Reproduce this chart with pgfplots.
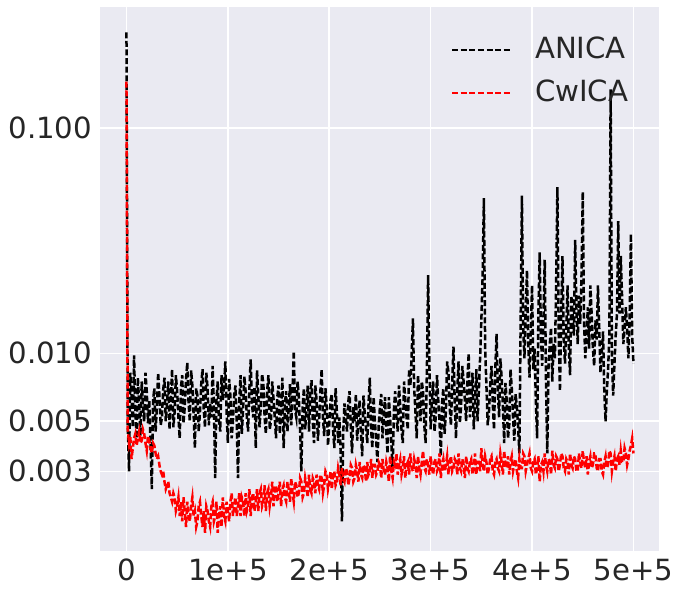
\documentclass[border=0pt]{standalone}
\usepackage{fontspec}
\setmainfont{DejaVu Sans}
\usepackage{pgfplots}
\pgfplotsset{compat=1.18}
\usepackage{pgfplotstable}

\definecolor{sbbg}{HTML}{EAEAF2}
\definecolor{sbtext}{HTML}{262626}
\newcommand{\plotfont}{\fontsize{14.6}{17}\selectfont}

% reconstruction error, one value every 1250 iterations (two per line)
\pgfplotstableread[row sep=\\]{
v\\
0.265\\ 0.0048\\
0.0030\\ 0.0082\\
0.0065\\ 0.0047\\
0.0098\\ 0.0055\\
0.0042\\ 0.0078\\
0.0060\\ 0.0043\\
0.0075\\ 0.0058\\
0.0050\\ 0.0082\\
0.0068\\ 0.0049\\
0.0062\\ 0.0040\\
0.0025\\ 0.0062\\
0.0070\\ 0.0045\\
0.0058\\ 0.0082\\
0.0065\\ 0.0048\\
0.0052\\ 0.0069\\
0.0078\\ 0.0050\\
0.0060\\ 0.0075\\
0.0046\\ 0.0064\\
0.0085\\ 0.0047\\
0.0055\\ 0.0080\\
0.0068\\ 0.0052\\
0.0042\\ 0.0071\\
0.0080\\ 0.0049\\
0.0058\\ 0.0077\\
0.0091\\ 0.0060\\
0.0050\\ 0.0084\\
0.0072\\ 0.0053\\
0.0038\\ 0.0070\\
0.0065\\ 0.0045\\
0.0055\\ 0.0073\\
0.0085\\ 0.0056\\
0.0047\\ 0.0082\\
0.0070\\ 0.0048\\
0.0060\\ 0.0052\\
0.0088\\ 0.0058\\
0.0028\\ 0.0062\\
0.0075\\ 0.0050\\
0.0045\\ 0.0080\\
0.0062\\ 0.0071\\
0.0092\\ 0.0055\\
0.0040\\ 0.0077\\
0.0065\\ 0.0042\\
0.0050\\ 0.0066\\
0.0072\\ 0.0049\\
0.0028\\ 0.0061\\
0.0080\\ 0.0044\\
0.0056\\ 0.0079\\
0.0068\\ 0.0052\\
0.0045\\ 0.0070\\
0.0094\\ 0.0060\\
0.0052\\ 0.0071\\
0.0038\\ 0.0084\\
0.0066\\ 0.0047\\
0.0058\\ 0.0081\\
0.0074\\ 0.0052\\
0.0044\\ 0.0068\\
0.0080\\ 0.0046\\
0.0050\\ 0.0075\\
0.0063\\ 0.0052\\
0.0042\\ 0.0064\\
0.0072\\ 0.0044\\
0.0055\\ 0.0078\\
0.0038\\ 0.0060\\
0.0068\\ 0.0045\\
0.0057\\ 0.0073\\
0.0048\\ 0.0068\\
0.0102\\ 0.0056\\
0.0052\\ 0.0075\\
0.0064\\ 0.0045\\
0.0030\\ 0.0058\\
0.0070\\ 0.0046\\
0.0056\\ 0.0072\\
0.0045\\ 0.0066\\
0.0076\\ 0.0050\\
0.0040\\ 0.0072\\
0.0062\\ 0.0041\\
0.0050\\ 0.0068\\
0.0085\\ 0.0052\\
0.0043\\ 0.0070\\
0.0058\\ 0.0039\\
0.0048\\ 0.0062\\
0.0066\\ 0.0046\\
0.0038\\ 0.0070\\
0.0055\\ 0.0040\\
0.0052\\ 0.0036\\
0.0018\\ 0.0044\\
0.0060\\ 0.0052\\
0.0045\\ 0.0061\\
0.0068\\ 0.0047\\
0.0036\\ 0.0058\\
0.0050\\ 0.0066\\
0.0041\\ 0.0052\\
0.0062\\ 0.0044\\
0.0035\\ 0.0065\\
0.0054\\ 0.0047\\
0.0040\\ 0.0060\\
0.0078\\ 0.0046\\
0.0038\\ 0.0064\\
0.0050\\ 0.0041\\
0.0033\\ 0.0048\\
0.0058\\ 0.0066\\
0.0042\\ 0.0053\\
0.0064\\ 0.0045\\
0.0036\\ 0.0064\\
0.0052\\ 0.0040\\
0.0030\\ 0.0056\\
0.0068\\ 0.0052\\
0.0045\\ 0.0072\\
0.0058\\ 0.0046\\
0.0040\\ 0.0075\\
0.0062\\ 0.0052\\
0.0046\\ 0.0085\\
0.0072\\ 0.0098\\
0.0143\\ 0.0070\\
0.0055\\ 0.0042\\
0.0080\\ 0.0064\\
0.0050\\ 0.0075\\
0.0068\\ 0.0048\\
0.0040\\ 0.0082\\
0.0222\\ 0.0090\\
0.0046\\ 0.0062\\
0.0075\\ 0.0045\\
0.0052\\ 0.0080\\
0.0062\\ 0.0050\\
0.0035\\ 0.0060\\
0.0070\\ 0.0044\\
0.0055\\ 0.0092\\
0.0083\\ 0.0058\\
0.0048\\ 0.0074\\
0.0107\\ 0.0060\\
0.0042\\ 0.0068\\
0.0092\\ 0.0049\\
0.0058\\ 0.0088\\
0.0075\\ 0.0062\\
0.0050\\ 0.0076\\
0.0100\\ 0.0052\\
0.0062\\ 0.0082\\
0.0046\\ 0.0060\\
0.0085\\ 0.0050\\
0.0068\\ 0.0095\\
0.0140\\ 0.0220\\
0.0488\\ 0.0105\\
0.0072\\ 0.0048\\
0.0055\\ 0.0072\\
0.0088\\ 0.0060\\
0.0046\\ 0.0085\\
0.0122\\ 0.0068\\
0.0052\\ 0.0095\\
0.0078\\ 0.0058\\
0.0040\\ 0.0074\\
0.0062\\ 0.0042\\
0.0048\\ 0.0085\\
0.0070\\ 0.0052\\
0.0041\\ 0.0066\\
0.0058\\ 0.0047\\
0.0036\\ 0.0140\\
0.0500\\ 0.0130\\
0.0095\\ 0.0160\\
0.0233\\ 0.0110\\
0.0078\\ 0.0125\\
0.0200\\ 0.0085\\
0.0105\\ 0.0062\\
0.0042\\ 0.0150\\
0.0280\\ 0.0120\\
0.0088\\ 0.0145\\
0.0260\\ 0.0075\\
0.0036\\ 0.0088\\
0.0110\\ 0.0130\\
0.0075\\ 0.0110\\
0.0095\\ 0.0200\\
0.0546\\ 0.0125\\
0.0068\\ 0.0150\\
0.0270\\ 0.0115\\
0.0090\\ 0.0130\\
0.0200\\ 0.0105\\
0.0080\\ 0.0180\\
0.0150\\ 0.0120\\
0.0318\\ 0.0160\\
0.0110\\ 0.0180\\
0.0135\\ 0.0220\\
0.0520\\ 0.0140\\
0.0095\\ 0.0120\\
0.0160\\ 0.0105\\
0.0200\\ 0.0150\\
0.0105\\ 0.0088\\
0.0140\\ 0.0115\\
0.0200\\ 0.0130\\
0.0082\\ 0.0100\\
0.0125\\ 0.0068\\
0.0050\\ 0.0068\\
0.0085\\ 0.0120\\
0.148\\ 0.0095\\
0.0065\\ 0.0090\\
0.0120\\ 0.0150\\
0.0386\\ 0.0150\\
0.0270\\ 0.0180\\
0.0110\\ 0.0128\\
0.0160\\ 0.0130\\
0.0095\\ 0.0145\\
0.0338\\ 0.0120\\
0.0090\\
}\anica

\pgfplotstableread[row sep=\\]{
v\\
0.160\\ 0.0046\\
0.0040\\ 0.0043\\
0.0034\\ 0.0038\\
0.0042\\ 0.0044\\
0.0039\\ 0.0042\\
0.0045\\ 0.0040\\
0.0041\\ 0.0046\\
0.0044\\ 0.0040\\
0.0037\\ 0.0043\\
0.0041\\ 0.0038\\
0.0036\\ 0.0040\\
0.0039\\ 0.0036\\
0.0034\\ 0.0035\\
0.0032\\ 0.0030\\
0.0029\\ 0.0030\\
0.0027\\ 0.0025\\
0.0026\\ 0.0027\\
0.0024\\ 0.0023\\
0.0022\\ 0.0024\\
0.0023\\ 0.0020\\
0.0021\\ 0.0023\\
0.0019\\ 0.0022\\
0.0018\\ 0.0023\\
0.0020\\ 0.0017\\
0.0022\\ 0.0019\\
0.0018\\ 0.0021\\
0.0023\\ 0.0019\\
0.0020\\ 0.0017\\
0.0018\\ 0.0021\\
0.0022\\ 0.0019\\
0.0017\\ 0.0020\\
0.0016\\ 0.0021\\
0.0020\\ 0.0018\\
0.0017\\ 0.0021\\
0.0022\\ 0.0018\\
0.0019\\ 0.0022\\
0.0016\\ 0.0019\\
0.0021\\ 0.0017\\
0.0023\\ 0.0019\\
0.0018\\ 0.0022\\
0.0020\\ 0.0018\\
0.0022\\ 0.0024\\
0.0019\\ 0.0021\\
0.0023\\ 0.0019\\
0.0021\\ 0.0024\\
0.0019\\ 0.0023\\
0.0022\\ 0.0019\\
0.0024\\ 0.0020\\
0.0021\\ 0.0025\\
0.0019\\ 0.0023\\
0.0024\\ 0.0020\\
0.0022\\ 0.0025\\
0.0020\\ 0.0024\\
0.0025\\ 0.0021\\
0.0022\\ 0.0026\\
0.0020\\ 0.0024\\
0.0025\\ 0.0021\\
0.0023\\ 0.0027\\
0.0021\\ 0.0025\\
0.0026\\ 0.0022\\
0.0024\\ 0.0027\\
0.0021\\ 0.0025\\
0.0026\\ 0.0023\\
0.0022\\ 0.0027\\
0.0025\\ 0.0022\\
0.0028\\ 0.0024\\
0.0022\\ 0.0027\\
0.0026\\ 0.0023\\
0.0024\\ 0.0028\\
0.0027\\ 0.0023\\
0.0024\\ 0.0028\\
0.0026\\ 0.0023\\
0.0029\\ 0.0025\\
0.0024\\ 0.0028\\
0.0027\\ 0.0024\\
0.0029\\ 0.0026\\
0.0025\\ 0.0029\\
0.0028\\ 0.0024\\
0.0026\\ 0.0030\\
0.0029\\ 0.0025\\
0.0027\\ 0.0030\\
0.0025\\ 0.0029\\
0.0030\\ 0.0026\\
0.0027\\ 0.0031\\
0.0029\\ 0.0026\\
0.0031\\ 0.0028\\
0.0027\\ 0.0031\\
0.0030\\ 0.0026\\
0.0028\\ 0.0032\\
0.0031\\ 0.0027\\
0.0028\\ 0.0032\\
0.0030\\ 0.0027\\
0.0033\\ 0.0029\\
0.0028\\ 0.0032\\
0.0031\\ 0.0027\\
0.0033\\ 0.0029\\
0.0030\\ 0.0034\\
0.0028\\ 0.0032\\
0.0032\\ 0.0029\\
0.0030\\ 0.0033\\
0.0032\\ 0.0028\\
0.0034\\ 0.0030\\
0.0029\\ 0.0033\\
0.0031\\ 0.0027\\
0.0035\\ 0.0030\\
0.0028\\ 0.0033\\
0.0032\\ 0.0036\\
0.0029\\ 0.0032\\
0.0034\\ 0.0029\\
0.0031\\ 0.0035\\
0.0028\\ 0.0032\\
0.0033\\ 0.0029\\
0.0036\\ 0.0031\\
0.0030\\ 0.0034\\
0.0032\\ 0.0028\\
0.0035\\ 0.0031\\
0.0029\\ 0.0033\\
0.0037\\ 0.0031\\
0.0030\\ 0.0034\\
0.0032\\ 0.0029\\
0.0035\\ 0.0031\\
0.0029\\ 0.0033\\
0.0034\\ 0.0030\\
0.0031\\ 0.0036\\
0.0028\\ 0.0032\\
0.0034\\ 0.0030\\
0.0032\\ 0.0035\\
0.0029\\ 0.0033\\
0.0035\\ 0.0030\\
0.0031\\ 0.0034\\
0.0033\\ 0.0029\\
0.0036\\ 0.0031\\
0.0030\\ 0.0034\\
0.0032\\ 0.0028\\
0.0035\\ 0.0031\\
0.0030\\ 0.0033\\
0.0034\\ 0.0029\\
0.0031\\ 0.0036\\
0.0029\\ 0.0033\\
0.0033\\ 0.0030\\
0.0038\\ 0.0032\\
0.0030\\ 0.0035\\
0.0033\\ 0.0029\\
0.0031\\ 0.0034\\
0.0035\\ 0.0030\\
0.0029\\ 0.0033\\
0.0034\\ 0.0031\\
0.0030\\ 0.0036\\
0.0033\\ 0.0029\\
0.0037\\ 0.0032\\
0.0031\\ 0.0035\\
0.0029\\ 0.0033\\
0.0035\\ 0.0030\\
0.0032\\ 0.0034\\
0.0030\\ 0.0028\\
0.0034\\ 0.0031\\
0.0031\\ 0.0036\\
0.0035\\ 0.0030\\
0.0032\\ 0.0034\\
0.0036\\ 0.0031\\
0.0030\\ 0.0033\\
0.0034\\ 0.0029\\
0.0031\\ 0.0035\\
0.0027\\ 0.0032\\
0.0033\\ 0.0030\\
0.0036\\ 0.0032\\
0.0030\\ 0.0034\\
0.0033\\ 0.0029\\
0.0037\\ 0.0032\\
0.0031\\ 0.0035\\
0.0034\\ 0.0030\\
0.0032\\ 0.0036\\
0.0035\\ 0.0031\\
0.0030\\ 0.0034\\
0.0033\\ 0.0029\\
0.0036\\ 0.0032\\
0.0031\\ 0.0035\\
0.0034\\ 0.0030\\
0.0030\\ 0.0036\\
0.0033\\ 0.0031\\
0.0037\\ 0.0033\\
0.0031\\ 0.0035\\
0.0029\\ 0.0033\\
0.0035\\ 0.0031\\
0.0032\\ 0.0036\\
0.0036\\ 0.0031\\
0.0030\\ 0.0034\\
0.0034\\ 0.0030\\
0.0029\\ 0.0033\\
0.0035\\ 0.0031\\
0.0032\\ 0.0037\\
0.0036\\ 0.0030\\
0.0033\\ 0.0035\\
0.0030\\ 0.0034\\
0.0035\\ 0.0032\\
0.0037\\ 0.0033\\
0.0033\\ 0.0038\\
0.0036\\ 0.0032\\
0.0034\\ 0.0037\\
0.0039\\ 0.0042\\
0.0036\\
}\cwica

\begin{document}
\begin{tikzpicture}
\useasboundingbox (-50pt,-21.65pt) rectangle (290.5pt,275.35pt);
\begin{axis}[
  at={(0,0)}, anchor=south west,
  scale only axis, width=279.25pt, height=271.85pt,
  xmin=-26100, xmax=524700,
  ymode=log, log basis y=10, ymin=0.001334, ymax=0.343,
  axis background/.style={fill=sbbg},
  axis line style={draw=none},
  grid=major, major grid style={white, line width=0.8pt},
  major tick length=0pt, minor tick length=0pt,
  xtick={0,100000,200000,300000,400000,500000},
  xticklabels={0,1e+5,2e+5,3e+5,4e+5,5e+5},
  scaled x ticks=false,
  ytick={0.003,0.005,0.01,0.1},
  yticklabels={0.003,0.005,0.010,0.100},
  tick label style={font=\plotfont, text=sbtext},
  x tick label style={anchor=north, inner sep=0pt, yshift=-4pt},
  y tick label style={anchor=east, inner sep=0pt, xshift=-3.75pt},
  legend style={draw=none, fill=none, at={(0.6172,0.9525)}, anchor=north west,
    font=\plotfont, text=sbtext, row sep=9.15pt, column sep=11pt,
    nodes={inner sep=0pt}},
  legend cell align=left,
  legend image code/.code={\draw[#1, line width=1pt] (0pt,0pt) -- (30pt,0pt);},
]
\addplot[black, line width=1.25pt, dash pattern=on 3pt off 1.3pt]
  table[x expr=\coordindex*1250, y=v] {\anica};
\addlegendentry{ANICA}
\addplot[red, line width=1.25pt, dash pattern=on 3pt off 1.3pt]
  table[x expr=\coordindex*1250, y=v] {\cwica};
\addlegendentry{CwICA}
\end{axis}
\end{tikzpicture}
\end{document}
